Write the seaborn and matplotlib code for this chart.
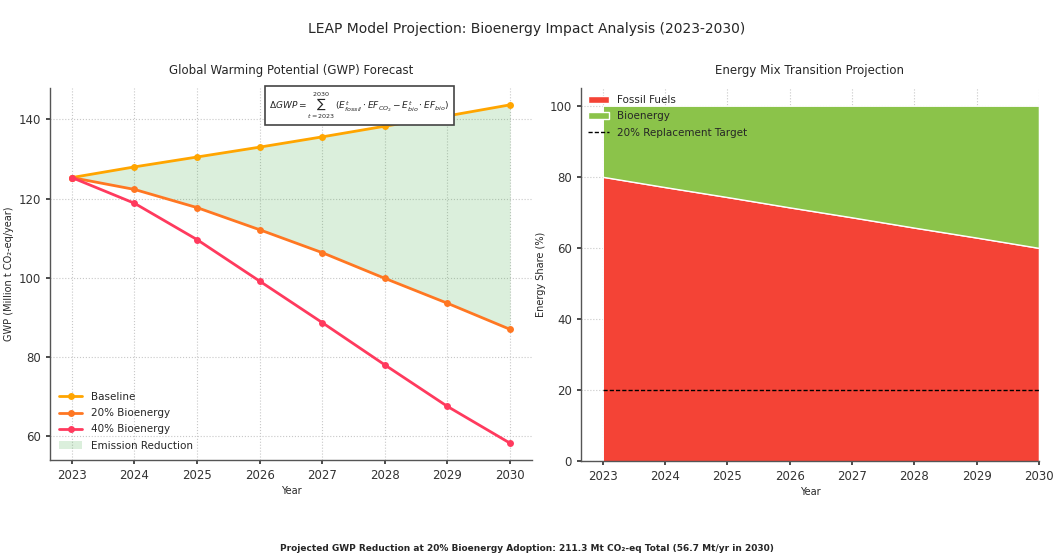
import matplotlib
matplotlib.use("Agg")
import matplotlib.pyplot as plt
import seaborn as sns
import pandas as pd

# data
years = [2023, 2024, 2025, 2026, 2027, 2028, 2029, 2030]
baseline = [125.3, 128.0, 130.5, 133.0, 135.6, 138.3, 140.9, 143.7]
bio20 = [125.3, 122.3, 117.7, 112.1, 106.3, 99.8, 93.5, 86.9]
bio40 = [125.3, 118.8, 109.6, 99.1, 88.6, 77.9, 67.4, 58.1]
fossil_share = [80, 77.1, 74.3, 71.4, 68.6, 65.7, 62.9, 60]
bio_share = [20, 22.9, 25.7, 28.6, 31.4, 34.3, 37.1, 40]
target = [20] * len(years)

df = pd.DataFrame({"Year": years, "Baseline": baseline,
                   "20% Bioenergy": bio20, "40% Bioenergy": bio40})

sns.set_theme(style="ticks")
plt.rcParams.update({
    "axes.grid": True,
    "grid.linestyle": ":",
    "grid.color": "#c8c8c8",
    "grid.linewidth": 0.8,
    "axes.edgecolor": "#555555",
    "axes.linewidth": 1.0,
    "xtick.labelsize": 8.5,
    "ytick.labelsize": 8.5,
    "xtick.color": "#333333",
    "ytick.color": "#333333",
    "xtick.major.size": 3,
    "ytick.major.size": 3,
    "axes.labelsize": 7,
    "axes.titlesize": 8.5,
})
plt.rcParams["font.family"] = ["DejaVu Sans"]

fig = plt.figure(figsize=(10.54, 5.53), dpi=100)
ax1 = fig.add_axes([0.0474, 0.168, 0.4573, 0.673])
ax2 = fig.add_axes([0.5512, 0.166, 0.4345, 0.675])

colors = {"Baseline": "#FFA500", "20% Bioenergy": "#FF7722", "40% Bioenergy": "#FF3A5E"}
for name in ["Baseline", "20% Bioenergy", "40% Bioenergy"]:
    sns.lineplot(data=df, x="Year", y=name, ax=ax1, color=colors[name], marker="o",
                 markersize=5, markeredgewidth=0, linewidth=2, label=name)
ax1.fill_between(years, bio20, baseline, color="#4CAF50", alpha=0.2, linewidth=0,
                 label="Emission Reduction")
ax1.set_title("Global Warming Potential (GWP) Forecast", pad=10)
ax1.set_xlabel("Year", labelpad=3)
ax1.set_ylabel("GWP (Million t CO₂-eq/year)", labelpad=3)
ax1.set_xticks(years)
ax1.set_yticks([60, 80, 100, 120, 140])
sns.despine(ax=ax1)
ax1.legend(loc="lower left", frameon=False, fontsize=7.5, handlelength=2.2,
           labelspacing=0.6)
ax1.text(0.455, 0.952,
         r"$\Delta GWP = \sum_{t=2023}^{2030}\,(E^t_{fossil}\cdot EF_{CO_2} - E^t_{bio}\cdot EF_{bio})$",
         transform=ax1.transAxes, ha="left", va="center", fontsize=6.5,
         bbox=dict(boxstyle="square,pad=0.5", facecolor="white", edgecolor="#444444",
                   linewidth=1.2))

ax2.stackplot(years, fossil_share, bio_share, colors=["#F44336", "#8BC34A"],
              labels=["Fossil Fuels", "Bioenergy"])
ax2.plot(years, target, color="black", linestyle="--", linewidth=1,
         dashes=(3, 1.5), label="20% Replacement Target")
ax2.set_xlim(2022.65, 2030)
ax2.set_ylim(0, 105)
ax2.set_xticks(years)
ax2.set_yticks([0, 20, 40, 60, 80, 100])
ax2.set_title("Energy Mix Transition Projection", pad=10)
ax2.set_xlabel("Year", labelpad=3)
ax2.set_ylabel("Energy Share (%)", labelpad=3)
sns.despine(ax=ax2)
ax2.legend(loc="upper left", frameon=False, fontsize=7.5, handlelength=2.0,
           borderaxespad=0.3, labelspacing=0.6)

fig.suptitle("LEAP Model Projection: Bioenergy Impact Analysis (2023-2030)",
             y=0.96, fontsize=10)
fig.text(0.5, 0.009, "Projected GWP Reduction at 20% Bioenergy Adoption: 211.3 Mt CO₂-eq Total (56.7 Mt/yr in 2030)",
         ha="center", va="center", fontsize=6.5, fontweight="bold")

fig.savefig("out.png", dpi=100)
